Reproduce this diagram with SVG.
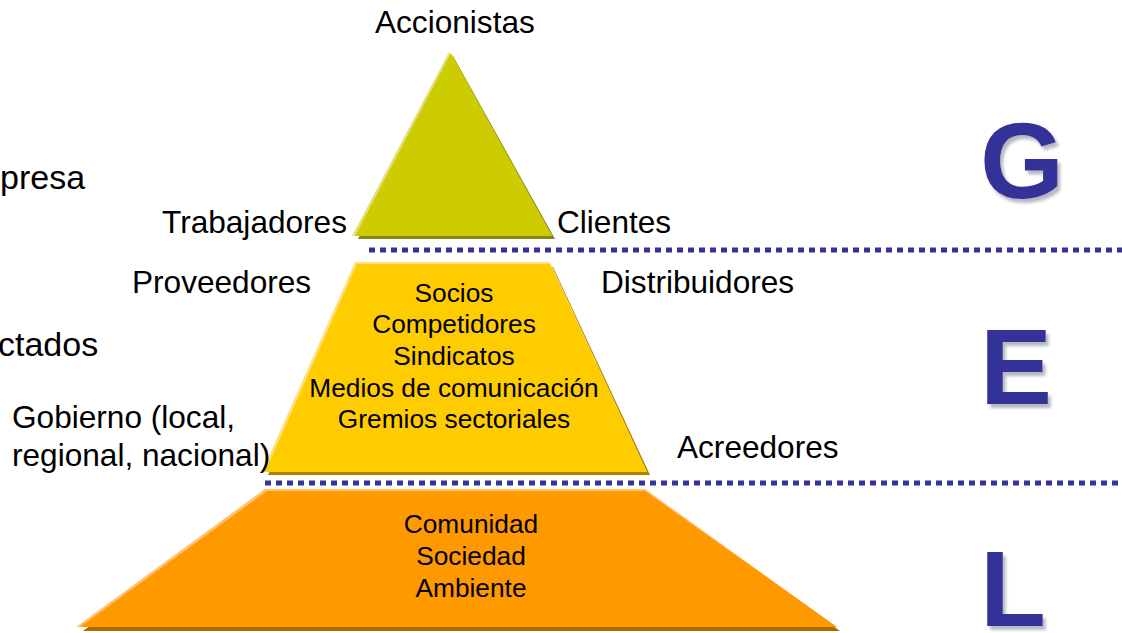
<svg xmlns="http://www.w3.org/2000/svg" width="1122" height="633" viewBox="0 0 1122 633">
<defs>
<filter id="sh" x="-20%" y="-20%" width="150%" height="150%">
<feGaussianBlur in="SourceAlpha" stdDeviation="1.5"/>
<feOffset dx="3" dy="4" result="o"/>
<feFlood flood-color="#9999aa" flood-opacity="0.7"/>
<feComposite in2="o" operator="in"/>
<feMerge><feMergeNode/><feMergeNode in="SourceGraphic"/></feMerge>
</filter>
</defs>
<style>
.lbl{font-family:"Liberation Sans",Arial,sans-serif;font-size:31.6px;fill:#000}
.big{font-family:"Liberation Sans",Arial,sans-serif;font-size:34px;fill:#000}
.in{font-family:"Liberation Sans",Arial,sans-serif;font-size:26.3px;fill:#000;text-anchor:middle}
.let{font-family:"Liberation Sans",Arial,sans-serif;font-weight:bold;font-size:108px;fill:#333399}
.dot{stroke:#333399;stroke-width:5;stroke-dasharray:6 5;fill:none}
</style>
<rect width="1122" height="633" fill="#ffffff"/>

<g id="connectors">
<line class="dot" x1="369" y1="250" x2="1122" y2="250"/>
<line class="dot" x1="265" y1="483" x2="1122" y2="483"/>
</g>

<g id="tier-g">
<polygon points="453,56 555,239 358,239" fill="#85851a"/>
<polygon points="449,52 552,236 352,236" fill="#e2e27a"/>
<polygon points="451,53 552,236 355,236" fill="#cccc00"/>
</g>

<g id="tier-e">
<polygon points="359,267 553,267 650,475 268,475" fill="#a88400"/>
<polygon points="355,262 550,262 647,472 262,472" fill="#ffe080"/>
<polygon points="357,264 550,264 647,472 265,472" fill="#ffcc00"/>
<text class="in" x="454" y="302">Socios</text>
<text class="in" x="454" y="333">Competidores</text>
<text class="in" x="454" y="365">Sindicatos</text>
<text class="in" x="454" y="397">Medios de comunicación</text>
<text class="in" x="454" y="428">Gremios sectoriales</text>
</g>

<g id="tier-l">
<polygon points="269,494 648,494 840,631 83,631" fill="#b06a00"/>
<polygon points="265,489 645,489 837,627 76,627" fill="#ffc070"/>
<polygon points="267,491 645,491 837,627 80,627" fill="#ff9900"/>
<text class="in" x="471" y="533">Comunidad</text>
<text class="in" x="471" y="565">Sociedad</text>
<text class="in" x="471" y="597">Ambiente</text>
</g>

<g id="labels">
<text class="lbl" x="375" y="33">Accionistas</text>
<text class="lbl" x="162" y="233">Trabajadores</text>
<text class="lbl" x="557" y="233">Clientes</text>
<text class="lbl" x="132" y="293">Proveedores</text>
<text class="lbl" x="601" y="293">Distribuidores</text>
<text class="lbl" x="12" y="428">Gobierno (local,</text>
<text class="lbl" x="12" y="466">regional, nacional)</text>
<text class="lbl" x="677" y="458">Acreedores</text>
<text class="big" x="0" y="189">presa</text>
<text class="big" x="-2" y="356">ctados</text>
</g>

<g id="letters" filter="url(#sh)">
<text class="let" x="980" y="198">G</text>
<text class="let" x="980" y="404">E</text>
<text class="let" x="980" y="626">L</text>
</g>
</svg>
